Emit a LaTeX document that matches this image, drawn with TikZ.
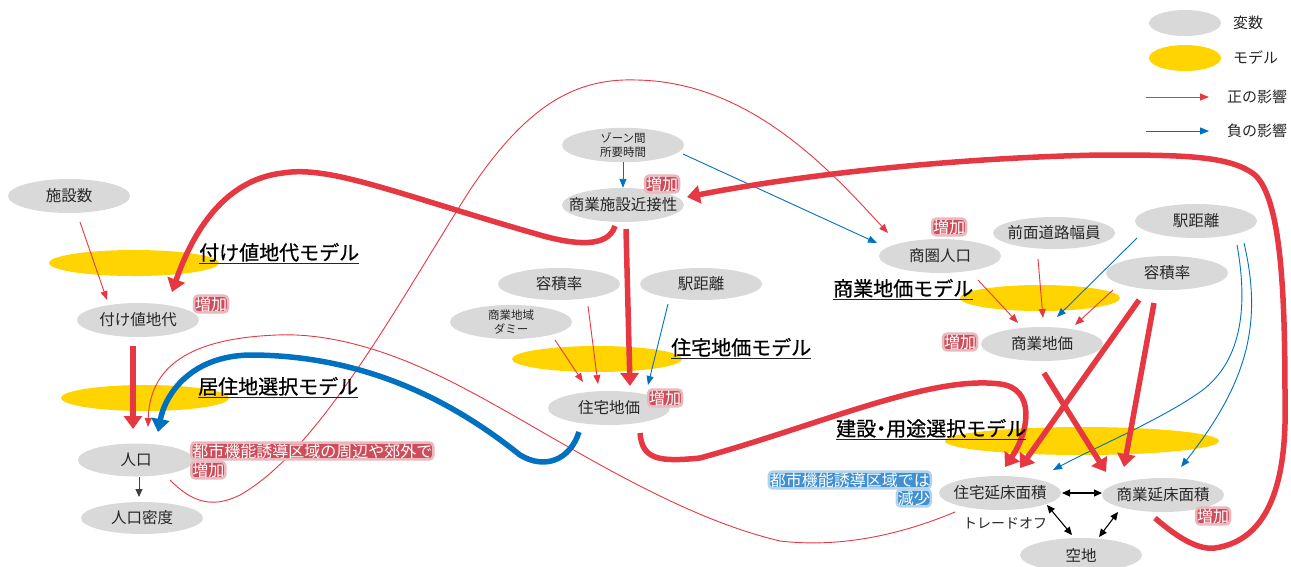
\documentclass[tikz,border=0pt]{standalone}
\usepackage{fontspec}
\setmainfont{Noto Sans CJK JP}
\newfontfamily\ttlfont[FakeBold=0.7]{Noto Sans CJK JP}
\usetikzlibrary{arrows.meta,shapes.geometric,calc}
\definecolor{vred}{RGB}{230,56,66}
\definecolor{vblue}{RGB}{0,112,192}
\definecolor{vyel}{RGB}{255,212,0}
\definecolor{vgray}{RGB}{217,217,217}
\definecolor{vtext}{RGB}{38,38,38}
\definecolor{gred}{RGB}{205,78,90}
\definecolor{gblue}{RGB}{65,145,210}
\newcommand{\nbx}[1]{\makebox[0pt]{#1}}
\begin{document}
\begin{tikzpicture}[x=1pt,y=-1pt,
 vnode/.style={ellipse, fill=vgray, minimum width=122pt, minimum height=34pt, inner sep=0pt, text=vtext, font=\fontsize{15.5}{18}\selectfont},
 smallvnode/.style={vnode, font=\fontsize{11.5}{12}\selectfont},
 mnode/.style={ellipse, fill=vyel, inner sep=0pt},
 ttl/.style={inner sep=0pt, text=black, font=\ttlfont\fontsize{20}{24}\selectfont, anchor=base west},
 uline/.style={line width=1pt, draw=vtext},
 incl/.style={fill=gred, draw=gred!40, line width=2.5pt, rounded corners=4pt, text=white, inner sep=1pt, font=\fontsize{16}{18}\selectfont},
 decl/.style={incl, fill=gblue, draw=gblue!40},
 posarr/.style={draw=vred, line width=0.9pt, -{Triangle[length=9pt,width=7pt]}},
 negarr/.style={draw=vblue, line width=0.9pt, -{Triangle[length=9pt,width=7pt]}},
 bigposarr/.style={draw=vred, line width=5.5pt, -{Triangle[length=13pt,width=18pt]}},
 bignegarr/.style={draw=vblue, line width=5.5pt, -{Triangle[length=13pt,width=18pt]}},
 deparr/.style={draw=black!75, line width=1pt, -{Triangle[length=8pt,width=7pt]}},
 tradearr/.style={draw=black, line width=1.1pt, {Triangle[length=8pt,width=7pt]}-{Triangle[length=8pt,width=7pt]}},
 lgtxt/.style={anchor=west, inner sep=0pt, text=vtext, font=\fontsize{15}{18}\selectfont},
]
\useasboundingbox (0,0) rectangle (1291,566);

% model ellipses
\node[mnode, minimum width=170pt, minimum height=26pt] (m1) at (134,263) {};
\node[mnode, minimum width=168pt, minimum height=26pt] (m2) at (145,398) {};
\node[mnode, minimum width=170pt, minimum height=26pt] (m3) at (597,359) {};
\node[mnode, minimum width=160pt, minimum height=26pt] (m4) at (1040,298) {};
\node[mnode, minimum width=274pt, minimum height=28pt] (m5) at (1082,441) {};

% variables
\node[vnode] (shisetsu) at (69,196) {\nbx{施設数}};
\node[vnode] (fukene) at (138,320) {\nbx{付け値地代}};
\node[vnode, minimum width=116pt, minimum height=33pt] (jinko) at (136,460) {\nbx{人口}};
\node[vnode, minimum height=32pt] (mitsudo) at (142,518) {\nbx{人口密度}};
\node[smallvnode, minimum height=33pt] (zone) at (623,145) {\nbx{\shortstack{ゾーン間\\所要時間}}};
\node[vnode] (ssk) at (623,205) {\nbx{商業施設近接性}};
\node[vnode, minimum height=32pt] (yoseki1) at (559,284) {\nbx{容積率}};
\node[vnode, minimum height=32pt] (eki1) at (701,284) {\nbx{駅距離}};
\node[smallvnode, minimum height=32pt] (dummy) at (511,322) {\nbx{\shortstack{商業地域\\ダミー}}};
\node[vnode] (jchika) at (609,408) {\nbx{住宅地価}};
\node[vnode] (shoken) at (940,256) {\nbx{商圏人口}};
\node[vnode, minimum height=32pt] (zenmen) at (1054,233) {\nbx{前面道路幅員}};
\node[vnode] (eki2) at (1196,221) {\nbx{駅距離}};
\node[vnode] (yoseki2) at (1167,273) {\nbx{容積率}};
\node[vnode] (schika) at (1042,344) {\nbx{商業地価}};
\node[vnode] (jyuka) at (1000,493) {\nbx{住宅延床面積}};
\node[vnode] (shoka) at (1163,495) {\nbx{商業延床面積}};
\node[vnode] (akichi) at (1081,555) {\nbx{空地}};
\node[inner sep=0pt, text=vtext, font=\fontsize{14}{16}\selectfont] (tradeoff) at (1005,523) {トレードオフ};

% thin connectors
\draw[posarr] ($(shisetsu)+(11,26)$) -- ($(fukene)+(-31,-20)$);
\draw[negarr] (zone.south) -- (ssk.north);
\draw[negarr] ($(zone)+(60,9)$) -- ($(shoken)+(-63,-13)$);
\draw[posarr] ($(yoseki1)+(29,22)$) -- ($(jchika)+(-11,-24)$);
\draw[posarr] ($(dummy)+(44,18)$) -- ($(jchika)+(-26,-26)$);
\draw[negarr] ($(eki1)+(-33,20)$) -- ($(jchika)+(39,-23)$);
\draw[posarr] ($(shoken)+(38,24)$) -- ($(schika)+(-24,-21)$);
\draw[posarr] ($(zenmen)+(-16,26)$) -- ($(schika)+(1,-26)$);
\draw[negarr] ($(eki2)+(-59,17)$) -- ($(schika)+(15,-27)$);
\draw[posarr] ($(yoseki2)+(-54,17)$) -- ($(schika)+(33,-19)$);
\draw[negarr] ($(eki2)+(41,24)$) .. controls (1247,300) and (1245,360) .. (1200,392) .. controls (1160,420) and (1100,445) .. ($(jyuka)+(53,-23)$);
\draw[negarr] ($(eki2)+(48,22)$) .. controls (1262,320) and (1250,380) .. ($(shoka)+(18,-28)$);
\draw[posarr] ($(jinko)+(34,20)$) .. controls (190,500) and (210,510) .. (240,495) .. controls (320,450) and (400,300) .. (470,190) .. controls (530,100) and (580,78) .. (637,80) .. controls (750,82) and (830,170) .. ($(shoken)+(-52,-23)$);
\draw[posarr] ($(jyuka)+(-45,19)$) .. controls (900,535) and (840,548) .. (780,541) .. controls (650,510) and (520,410) .. (420,367) .. controls (370,345) and (320,333) .. (277,335) .. controls (200,338) and (150,360) .. ($(jinko)+(12,-33)$);
\draw[deparr] ($(jinko)+(3,17)$) -- ($(mitsudo)+(-3,-21)$);
\draw[tradearr] ($(jyuka)+(62,0)$) -- ($(shoka)+(-61,-2)$);
\draw[tradearr] ($(jyuka)+(47,12)$) -- ($(akichi)+(-9,-20)$);
\draw[tradearr] ($(shoka)+(-45,17)$) -- ($(akichi)+(18,-18)$);

% thick connectors
\draw[bigposarr] ($(ssk)+(-8,21)$) .. controls (608,248) and (575,245) .. (540,235) .. controls (400,195) and (330,165) .. (283,173) .. controls (220,180) and (190,240) .. ($(fukene)+(34,-28)$);
\draw[bigposarr] ($(fukene)+(-5,26)$) -- ($(jinko)+(-3,-31)$);
\draw[bignegarr] ($(jchika)+(-30,24)$) .. controls (570,460) and (545,470) .. (520,455) .. controls (470,415) and (380,355) .. (250,355) .. controls (190,356) and (165,395) .. ($(jinko)+(22,-28)$);
\draw[bigposarr] ($(ssk)+(3,24)$) -- ($(jchika)+(21,-22)$);
\draw[bigposarr] ($(jchika)+(31,25)$) .. controls (642,460) and (660,462) .. (700,458) .. controls (820,425) and (930,375) .. (1000,384) .. controls (1035,388) and (1030,430) .. ($(jyuka)+(5,-26)$);
\draw[bigposarr] ($(shoka)+(-8,23)$) .. controls (1180,540) and (1200,550) .. (1215,548) .. controls (1270,540) and (1287,480) .. (1285,400) .. controls (1285,300) and (1282,200) .. (1255,175) .. controls (1230,155) and (1180,155) .. (1100,155) .. controls (950,158) and (800,175) .. ($(ssk)+(64,-8)$);
\draw[bigposarr] ($(yoseki2)+(-28,27)$) -- ($(jyuka)+(20,-25)$);
\draw[bigposarr] ($(yoseki2)+(-13,30)$) -- ($(shoka)+(-39,-28)$);
\draw[bigposarr] ($(schika)+(2,29)$) -- ($(shoka)+(-57,-23)$);

% model titles
\node[ttl] (t1) at (199,260) {付け値地代モデル};
\draw[uline] ($(t1.base west)+(0,3)$) -- ($(t1.base east)+(0,3)$);
\node[ttl] (t2) at (198,394) {居住地選択モデル};
\draw[uline] ($(t2.base west)+(0,3)$) -- ($(t2.base east)+(0,3)$);
\node[ttl] (t3) at (671,355) {住宅地価モデル};
\draw[uline] ($(t3.base west)+(0,3)$) -- ($(t3.base east)+(0,3)$);
\node[ttl] (t4) at (833,296) {商業地価モデル};
\draw[uline] ($(t4.base west)+(0,3)$) -- ($(t4.base east)+(0,3)$);
\node[ttl] (t5) at (836,436) {建設{\kern-5pt}・{\kern-5pt}用途選択モデル};
\draw[uline] ($(t5.base west)+(0,3)$) -- ($(t5.base east)+(0,3)$);

% change labels
\node[incl] (z1) at (211,304) {増加};
\node[incl] (z2) at (662,184) {増加};
\node[incl] (z3) at (665,398) {増加};
\node[incl] (z4) at (949,227) {増加};
\node[incl] (z5) at (960,342) {増加};
\node[incl] (z6) at (1213,516) {増加};
\node[incl, anchor=west] (r1) at (190,451) {都市機能誘導区域の周辺や郊外で};
\node[incl, anchor=west] (r2) at (190,470) {増加};
\node[decl, anchor=east] (b1) at (932,480) {都市機能誘導区域では};
\node[decl, anchor=east] (b2) at (932,498) {減少};

% legend
\node[vnode, minimum width=72pt, minimum height=26pt] (lgv) at (1185,23) {};
\node[mnode, minimum width=72pt, minimum height=26pt] (lgm) at (1185,58) {};
\node[lgtxt] (lgvt) at (1233,23) {変数};
\node[lgtxt] (lgmt) at (1233,58) {モデル};
\coordinate (lgpa) at (1146,97);
\coordinate (lgpb) at (1209,97);
\coordinate (lgna) at (1146,131);
\coordinate (lgnb) at (1209,131);
\draw[posarr] (lgpa) -- (lgpb);
\draw[negarr] (lgna) -- (lgnb);
\node[lgtxt] (lgpt) at (1227,97) {正の影響};
\node[lgtxt] (lgnt) at (1227,131) {負の影響};
\end{tikzpicture}
\end{document}
